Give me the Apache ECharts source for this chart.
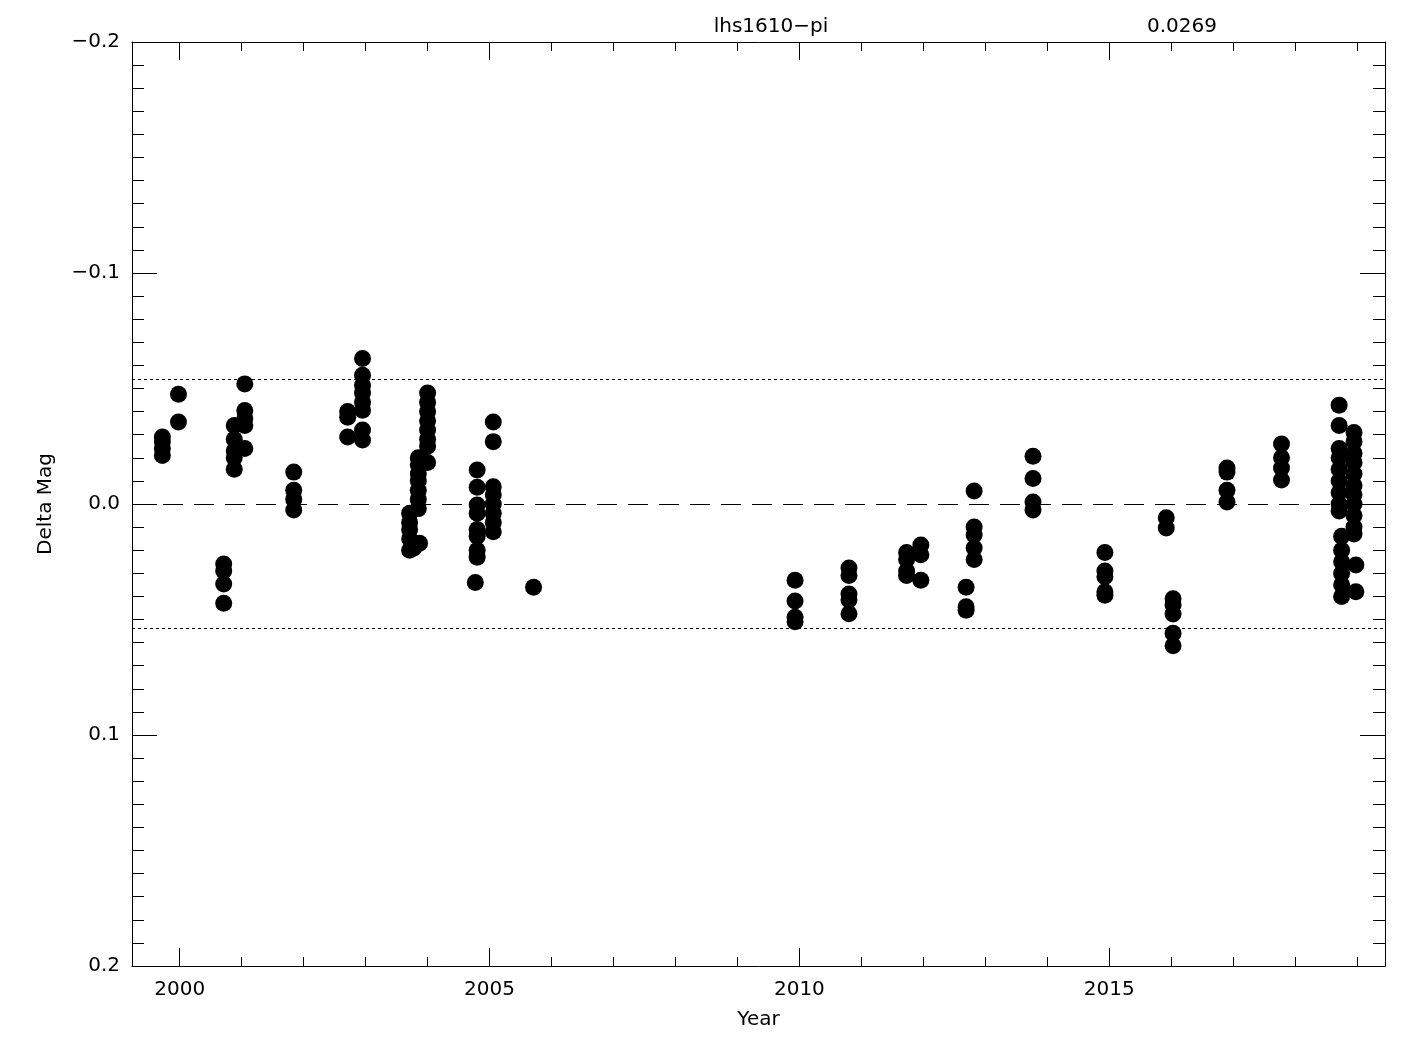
<!DOCTYPE html>
<html>
<head>
<meta charset="utf-8">
<script src="https://cdn.jsdelivr.net/npm/echarts@6/dist/echarts.min.js"></script>
<style>
html,body{margin:0;padding:0;background:#fff;}
#chart{width:1425px;height:1050px;}
</style>
</head>
<body>
<div id="chart"></div>
<script>
// ---- data ----
const starName = 'lhs1610\u2212pi';
const sigma = 0.0269;
const xMajorTicks = [2000, 2005, 2010, 2015];
const yMajorTicks = [-0.2, -0.1, 0.0, 0.1, 0.2];

const obsYear = [
  1999.72,1999.72,1999.72,1999.72,
  1999.98,1999.98,
  2000.71,2000.71,2000.71,2000.71,
  2000.88,2000.88,2000.88,2000.88,2000.88,
  2001.05,2001.05,2001.05,2001.05,2001.05,
  2001.84,2001.84,2001.84,2001.84,
  2002.71,2002.71,2002.71,
  2002.95,2002.95,2002.95,2002.95,2002.95,2002.95,2002.95,2002.95,
  2003.71,2003.71,2003.71,2003.71,2003.71,
  2003.78,2003.78,
  2003.85,2003.85,2003.85,2003.85,2003.85,2003.85,2003.85,2003.87,
  2004.00,2004.00,2004.00,2004.00,2004.00,2004.00,2004.00,2004.00,
  2004.80,2004.80,2004.80,2004.80,2004.80,2004.80,2004.80,2004.80,
  2004.77,
  2005.06,2005.06,2005.06,2005.06,2005.06,2005.06,2005.06,2005.06,
  2005.71,
  2009.93,2009.93,2009.93,2009.93,
  2010.80,2010.80,2010.80,2010.80,2010.80,
  2011.73,2011.73,2011.73,2011.73,
  2011.96,2011.96,2011.96,
  2012.69,2012.69,2012.69,
  2012.82,2012.82,2012.82,2012.82,2012.82,
  2013.77,2013.77,2013.77,2013.77,
  2014.93,2014.93,2014.93,2014.93,2014.93,
  2015.92,2015.92,
  2016.03,2016.03,2016.03,2016.03,2016.03,
  2016.90,2016.90,2016.90,2016.90,
  2017.78,2017.78,2017.78,2017.78,
  2018.71,2018.71,2018.71,2018.71,2018.71,2018.71,2018.71,2018.71,2018.71,
  2018.75,2018.75,2018.75,2018.75,2018.75,2018.75,
  2018.95,2018.95,2018.95,2018.95,2018.95,2018.95,2018.95,2018.95,2018.95,2018.95,2018.95,
  2018.98,2018.98
];
const obsMag = [
  -0.029,-0.027,-0.024,-0.021,
  -0.0475,-0.0355,
  0.026,0.029,0.0346,0.043,
  -0.034,-0.028,-0.023,-0.020,-0.015,
  -0.052,-0.0405,-0.037,-0.034,-0.024,
  -0.0138,-0.006,-0.002,0.0026,
  -0.040,-0.0376,-0.029,
  -0.063,-0.0557,-0.0514,-0.048,-0.044,-0.0406,-0.032,-0.0277,
  0.004,0.008,0.011,0.015,0.020,
  0.017,0.019,
  -0.020,-0.017,-0.013,-0.010,-0.006,-0.002,0.002,0.017,
  -0.048,-0.044,-0.040,-0.036,-0.032,-0.028,-0.025,-0.018,
  -0.0147,-0.0073,0.0004,0.004,0.011,0.014,0.020,0.023,
  0.034,
  -0.0355,-0.027,-0.0075,-0.004,0.000,0.004,0.008,0.012,
  0.036,
  0.033,0.042,0.049,0.051,
  0.0277,0.031,0.039,0.0415,0.0475,
  0.021,0.024,0.029,0.031,
  0.0177,0.022,0.033,
  0.036,0.0445,0.046,
  -0.0056,0.010,0.0134,0.019,0.024,
  -0.0207,-0.011,-0.0009,0.0026,
  0.021,0.029,0.0315,0.038,0.0395,
  0.006,0.0104,
  0.041,0.0437,0.0476,0.056,0.0614,
  -0.0156,-0.0138,-0.006,-0.0009,
  -0.026,-0.020,-0.0156,-0.0104,
  -0.0428,-0.034,-0.024,-0.020,-0.015,-0.010,-0.005,0.000,0.003,
  0.014,0.020,0.025,0.030,0.035,0.040,
  -0.031,-0.027,-0.022,-0.018,-0.013,-0.008,-0.004,0.000,0.005,0.010,0.013,
  0.0264,0.038
];

// ---- derived ----
const xMinorTicks = [];
for (let y = 1999; y <= 2019; y++) xMinorTicks.push(y);
const yMinorTicks = [];
for (let i = -20; i <= 20; i++) yMinorTicks.push(i / 100);
const points = obsYear.map((x, i) => [x, obsMag[i]]);

const FONT = 'DejaVu Sans';
const black = {color: '#000', width: 1};
const xMin = 1999.23, xMax = 2019.45;

function fmtY(v) {
  const r = Math.round(v * 10) / 10;
  if (r < 0) return '\u2212' + Math.abs(r).toFixed(1);
  return Math.abs(r).toFixed(1);
}

function xAx(pos, major) {
  return {
    type: 'value', min: xMin, max: xMax, position: pos, gridIndex: 0,
    axisLine: {show: major, onZero: false, lineStyle: black},
    axisTick: {show: true, inside: true, length: major ? 18 : 9,
      customValues: major ? xMajorTicks : xMinorTicks, lineStyle: black},
    axisLabel: {show: major && pos === 'bottom', customValues: xMajorTicks,
      color: '#000', fontFamily: FONT, fontSize: 20, margin: 14,
      formatter: v => String(Math.round(v))},
    splitLine: {show: false},
    name: (major && pos === 'bottom') ? 'Year' : '',
    nameLocation: 'middle', nameGap: 44,
    nameTextStyle: {color: '#000', fontFamily: FONT, fontSize: 20, verticalAlign: 'top'}
  };
}
function yAx(pos, major) {
  return {
    type: 'value', min: -0.2, max: 0.2, inverse: true, position: pos, gridIndex: 0,
    axisLine: {show: major, onZero: false, lineStyle: black},
    axisTick: {show: true, inside: true, length: major ? 25 : 12,
      customValues: major ? yMajorTicks : yMinorTicks, lineStyle: black},
    axisLabel: {show: major && pos === 'left', customValues: yMajorTicks,
      color: '#000', fontFamily: FONT, fontSize: 20, margin: 12, formatter: fmtY},
    splitLine: {show: false},
    name: (major && pos === 'left') ? 'Delta Mag' : '',
    nameLocation: 'middle', nameGap: 76, nameRotate: 90,
    nameTextStyle: {color: '#000', fontFamily: FONT, fontSize: 20}
  };
}

const chart = echarts.init(document.getElementById('chart'), null, {renderer: 'canvas'});
chart.setOption({
  animation: false,
  backgroundColor: '#fff',
  title: [
    {text: starName, left: 766, top: 12, textAlign: 'center',
     textStyle: {color: '#000', fontFamily: FONT, fontSize: 20, fontWeight: 'normal'}},
    {text: sigma.toFixed(4), left: 1177, top: 12, textAlign: 'center',
     textStyle: {color: '#000', fontFamily: FONT, fontSize: 20, fontWeight: 'normal'}}
  ],
  grid: {left: 132, right: 40, top: 42, bottom: 84, containLabel: false},
  xAxis: [xAx('bottom', true), xAx('bottom', false), xAx('top', true), xAx('top', false)],
  yAxis: [yAx('left', true), yAx('left', false), yAx('right', true), yAx('right', false)],
  series: [{
    type: 'scatter', xAxisIndex: 0, yAxisIndex: 0,
    data: points, symbol: 'circle', symbolSize: 17,
    itemStyle: {color: '#000', opacity: 1},
    markLine: {
      silent: true, symbol: ['none', 'none'], label: {show: false}, precision: 5,
      data: [
        {yAxis: 0, lineStyle: {color: '#000', width: 1, type: [20, 11], opacity: 1}},
        {yAxis: -2 * sigma, lineStyle: {color: '#000', width: 1, type: [3, 3], opacity: 1}},
        {yAxis: 2 * sigma, lineStyle: {color: '#000', width: 1, type: [3, 3], opacity: 1}}
      ]
    }
  }]
});
</script>
</body>
</html>
